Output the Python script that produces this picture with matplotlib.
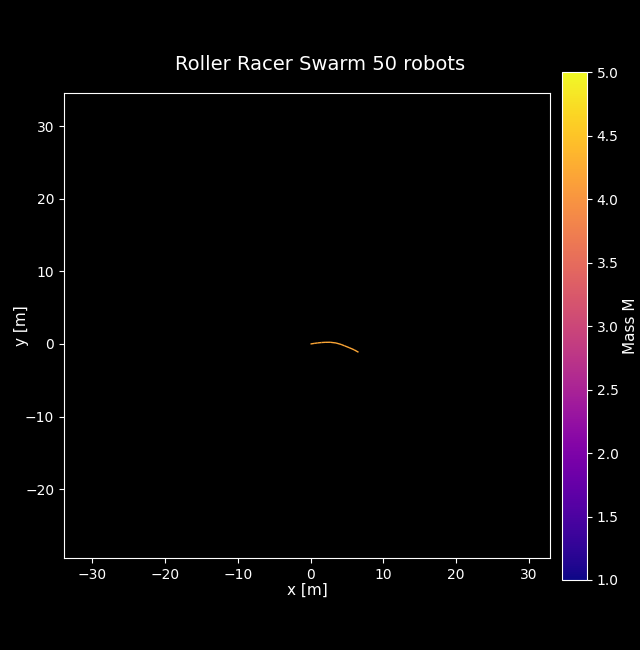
"""Roller racer swarm trajectory snapshot."""

import matplotlib

matplotlib.use("Agg")
import matplotlib.pyplot as plt
import numpy as np
from matplotlib.collections import LineCollection
from matplotlib.colors import Normalize

# trajectory (one visible robot path)
path_x = [0.0, 0.5, 1.0, 1.5, 2.0, 2.7, 3.5, 4.2, 4.7, 5.3, 6.0, 6.6]
path_y = [0.0, 0.08, 0.15, 0.2, 0.23, 0.24, 0.14, -0.06, -0.26, -0.5, -0.8, -1.14]
robot_mass = 4.2

n_robots = 50
mass_min, mass_max = 1.0, 5.0
x_lim = (-33.9, 32.9)
y_lim = (-29.5, 34.6)

plt.style.use("dark_background")
fig = plt.figure(figsize=(6.4, 6.5), dpi=100)
ax = fig.add_axes([0.1, 0.1415, 0.759, 0.7155])
cax = fig.add_axes([0.878, 0.1077, 0.039, 0.7813])

norm = Normalize(mass_min, mass_max)
cmap = plt.get_cmap("plasma")

pts = np.column_stack([path_x, path_y]).reshape(-1, 1, 2)
segs = np.concatenate([pts[:-1], pts[1:]], axis=1)
lc = LineCollection(segs, colors=[cmap(norm(robot_mass))], linewidths=1.0)
ax.add_collection(lc)

ax.set_xlim(*x_lim)
ax.set_ylim(*y_lim)
ax.set_xlabel("x [m]", fontsize=11, labelpad=1)
ax.set_ylabel("y [m]", fontsize=11, labelpad=-3)
fig.suptitle(f"Roller Racer Swarm {n_robots} robots", fontsize=14, y=0.915)

sm = plt.cm.ScalarMappable(norm=norm, cmap=cmap)
cbar = fig.colorbar(sm, cax=cax)
cbar.set_label("Mass M", fontsize=11, labelpad=3)

fig.savefig("out.png", dpi=100)
